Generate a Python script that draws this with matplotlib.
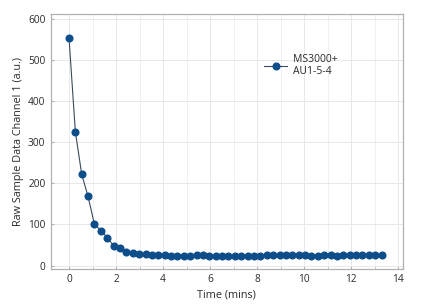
import matplotlib
matplotlib.use("Agg")
import matplotlib.pyplot as plt
from matplotlib.ticker import MultipleLocator

# =========================
# Data
# =========================
TIME_MINS = [
    0.00, 0.27, 0.54, 0.81, 1.08, 1.36, 1.63, 1.90, 2.17, 2.44,
    2.71, 2.99, 3.26, 3.53, 3.80, 4.07, 4.34, 4.61, 4.89, 5.16,
    5.43, 5.70, 5.97, 6.24, 6.51, 6.78, 7.06, 7.33, 7.60, 7.87,
    8.14, 8.41, 8.68, 8.96, 9.23, 9.50, 9.77, 10.04, 10.31, 10.58,
    10.86, 11.13, 11.40, 11.67, 11.94, 12.21, 12.48, 12.75, 13.03, 13.30,
]
RAW_CH1 = [
    554, 326, 222, 168, 101, 85, 68, 48, 43, 32,
    30, 28, 27, 26, 25, 25, 23, 23, 24, 24,
    25, 25, 24, 23, 24, 24, 24, 24, 24, 24,
    24, 25, 26, 26, 26, 26, 26, 26, 24, 24,
    26, 25, 24, 25, 26, 26, 26, 26, 26, 26,
]
SERIES_LABEL = "MS3000+\nAU1-5-4"
X_LABEL = "Time (mins)"
Y_LABEL = "Raw Sample Data Channel 1 (a.u.)"

plt.rcParams['font.family'] = ['Open Sans', 'DejaVu Sans']

fig = plt.figure(figsize=(4.35, 3.08), dpi=100)
ax = fig.add_axes([0.117, 0.127, 0.809, 0.828])

ax.plot(TIME_MINS, RAW_CH1, color='#3a4a5c', lw=0.8, marker='o', ms=4.8,
        mfc='#0d4e8a', mec='#0d4e8a', label=SERIES_LABEL)

ax.set_xlim(-0.77, 14.2)
ax.set_ylim(-8, 612)
ax.xaxis.set_major_locator(MultipleLocator(2))
ax.xaxis.set_minor_locator(MultipleLocator(1))
ax.yaxis.set_major_locator(MultipleLocator(100))
ax.grid(True, which='major', color='#e8e8e8', lw=0.7)
ax.grid(True, which='minor', axis='x', color='#eeeeee', lw=0.6)
ax.set_axisbelow(True)

for sp in ax.spines.values():
    sp.set_color('#b0b0b0')
    sp.set_linewidth(0.9)
ax.tick_params(which='both', direction='in', colors='#b0b0b0', labelcolor='#2a2a2a',
               labelsize=7.3, length=2.5, pad=4)
ax.tick_params(which='minor', length=1.5)

ax.set_xlabel(X_LABEL, fontsize=7.8, color='#2a2a2a', labelpad=3)
ax.set_ylabel(Y_LABEL, fontsize=7.8, color='#2a2a2a', labelpad=3)

ax.legend(loc='upper left', bbox_to_anchor=(0.58, 0.88), frameon=False,
          fontsize=7.5, handlelength=2.2, handletextpad=0.5, labelcolor='#2a2a2a')

fig.savefig("out.png", dpi=100)
